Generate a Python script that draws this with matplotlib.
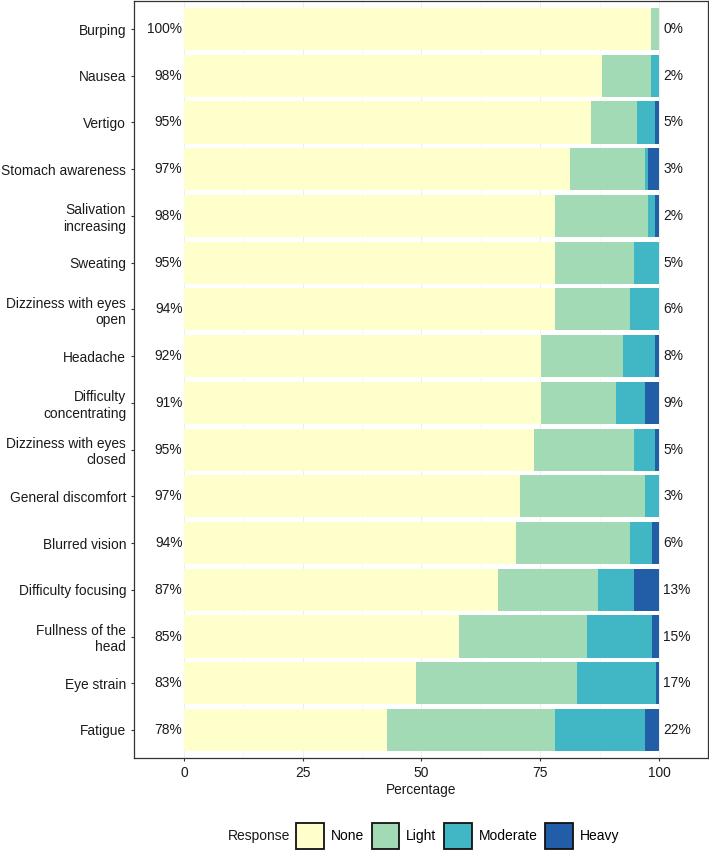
import matplotlib
matplotlib.use("Agg")
import matplotlib.pyplot as plt
import numpy as np
from matplotlib.patches import Patch

plt.rcParams["font.family"] = ["Liberation Sans", "DejaVu Sans"]

# symptoms, top to bottom
symptoms = [
    "Burping", "Nausea", "Vertigo", "Stomach awareness", "Salivation\nincreasing",
    "Sweating", "Dizziness with eyes\nopen", "Headache", "Difficulty\nconcentrating",
    "Dizziness with eyes\nclosed", "General discomfort", "Blurred vision",
    "Difficulty focusing", "Fullness of the\nhead", "Eye strain", "Fatigue",
]
none_pct = [98.4, 87.9, 85.6, 81.2, 78.2, 78.2, 78.2, 75.1, 75.1, 73.6, 70.7, 69.8, 66.2, 57.9, 48.8, 42.8]
light_pct = [1.6, 10.5, 9.8, 15.8, 19.5, 16.5, 15.7, 17.3, 15.8, 21.1, 26.3, 24.1, 21.0, 27.0, 33.9, 35.4]
moderate_pct = [0.0, 1.6, 3.8, 0.7, 1.5, 5.3, 6.1, 6.8, 6.1, 4.5, 3.0, 4.6, 7.5, 13.6, 16.6, 18.8]
heavy_pct = [0.0, 0.0, 0.8, 2.3, 0.8, 0.0, 0.0, 0.8, 3.0, 0.8, 0.0, 1.5, 5.3, 1.5, 0.7, 3.0]

levels = ["None", "Light", "Moderate", "Heavy"]
colors = ["#FFFFCC", "#A1DAB4", "#41B6C4", "#225EA8"]

fs = 9.9
fig = plt.figure(figsize=(7.09, 8.5), dpi=100)
ax = fig.add_axes([134 / 709, 92 / 850, 574 / 709, 757 / 850])

y = np.arange(len(symptoms))
left = np.zeros(len(symptoms))
for vals, col in zip([none_pct, light_pct, moderate_pct, heavy_pct], colors):
    vals = np.array(vals)
    ax.barh(y, vals, left=left, height=0.9, color=col, edgecolor="none", zorder=2)
    left += vals

low = np.array(none_pct) + np.array(light_pct)
high = np.array(moderate_pct) + np.array(heavy_pct)
for yi, lo, hi in zip(y, low, high):
    ax.text(-0.3, yi, f"{lo:.0f}%", ha="right", va="center", fontsize=fs, color="#1a1a1a")
    ax.text(100.9, yi, f"{hi:.0f}%", ha="left", va="center", fontsize=fs, color="#1a1a1a")

ax.set_xlim(-10.5, 110.3)
ax.set_ylim(len(symptoms) - 0.4, -0.6)
ax.set_yticks(y)
ax.set_yticklabels(symptoms, fontsize=fs, color="#1a1a1a", multialignment="right")
ax.set_xticks([0, 25, 50, 75, 100])
ax.set_xticklabels(["0", "25", "50", "75", "100"], fontsize=fs, color="#1a1a1a")
ax.set_xticks([12.5, 37.5, 62.5, 87.5], minor=True)
ax.tick_params(axis="both", which="major", length=2.5, color="#333333", pad=3.2)
ax.tick_params(axis="x", which="minor", length=0)
ax.set_xlabel("Percentage", fontsize=fs, color="#1a1a1a", labelpad=2)

ax.grid(True, which="major", axis="x", color="#EBEBEB", lw=0.6, zorder=0)
ax.grid(True, which="minor", axis="x", color="#F2F2F2", lw=0.4, zorder=0)
ax.set_axisbelow(True)
for sp in ax.spines.values():
    sp.set_color("#333333")
    sp.set_linewidth(0.9)

# legend with the title placed to the left, ggplot style
fig.text(290 / 709, 14 / 850, "Response", ha="right", va="center", fontsize=10, color="#1a1a1a")
handles = [Patch(facecolor=c, edgecolor="#111111", lw=1.3, label=l) for c, l in zip(colors, levels)]
fig.legend(handles=handles, loc="center left", bbox_to_anchor=(296 / 709, 14 / 850),
           ncol=4, frameon=False, fontsize=10, handlelength=2.0, handleheight=2.6,
           handletextpad=0.5, columnspacing=0.55, borderpad=0, borderaxespad=0)

fig.savefig("out.png", dpi=100, facecolor="white")
